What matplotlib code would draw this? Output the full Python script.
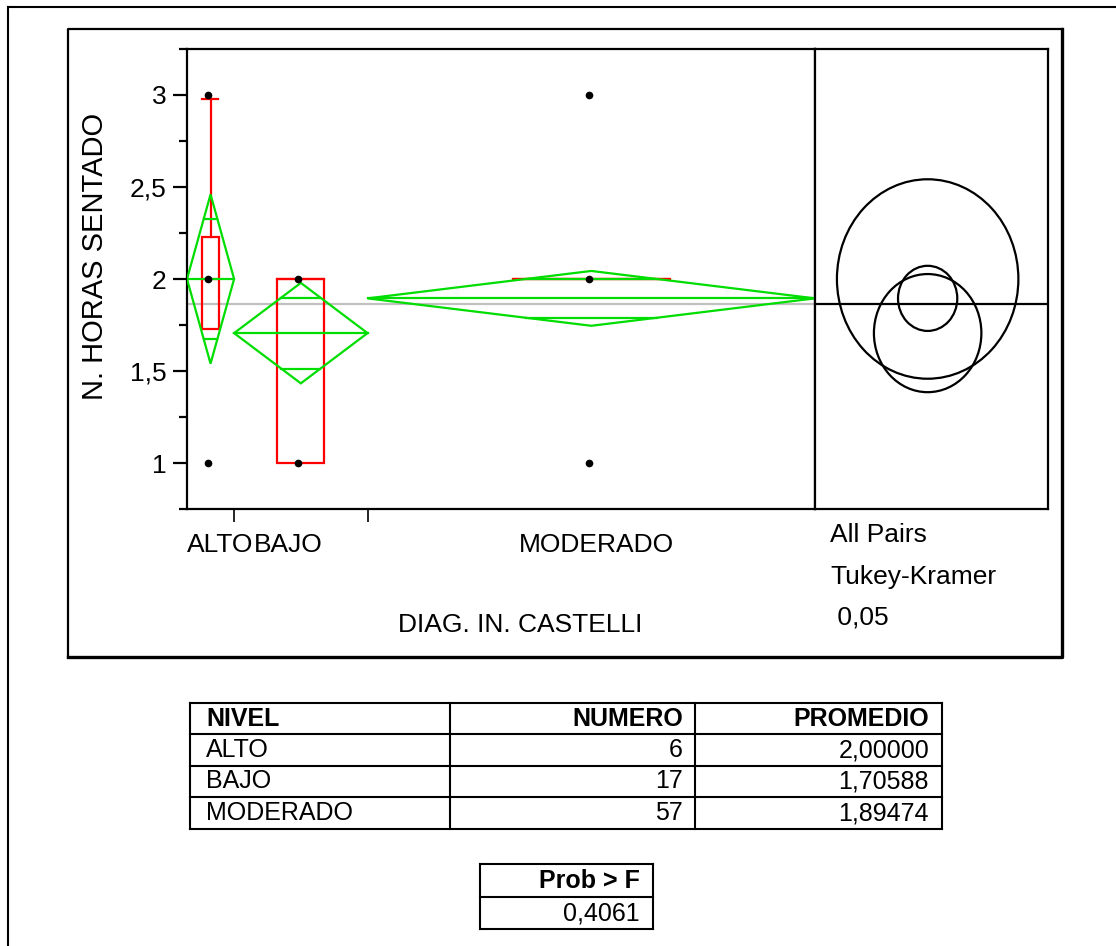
import matplotlib
matplotlib.use("Agg")
import matplotlib.pyplot as plt
from matplotlib.patches import Polygon, Rectangle, Circle
from matplotlib.lines import Line2D
from matplotlib.ticker import FuncFormatter, MultipleLocator
import numpy as np

plt.rcParams['font.family'] = ['Liberation Sans', 'DejaVu Sans']

# datos del analisis unidireccional
niveles = ['ALTO', 'BAJO', 'MODERADO']
numero = [6, 17, 57]
promedio = [2.00000, 1.70588, 1.89474]
media_global = 1.8625
ic_media = [0.46, 0.273, 0.149]        # semiancho de los diamantes (95%)
radio_tukey = [0.542, 0.321, 0.177]    # circulos Tukey-Kramer 0,05
puntos = [[1, 2, 3], [1, 2], [1, 2, 3]]
caja_q1 = [1.73, 1.0, 2.0]
caja_med = [2.0, 2.0, 2.0]
caja_q3 = [2.23, 2.0, 2.0]
bigote_sup = [2.98, 2.0, 2.0]
prob_f = 0.4061

VERDE = '#00dd00'
ROJO = '#ff0000'
W, H = 1116, 946
FS = 19


def fx(px):
    return px / W


def fy(py):
    return 1 - py / H


def coma(v, dec=None):
    s = ('{:.%df}' % dec).format(v) if dec is not None else ('%g' % v)
    return s.replace('.', ',')


fig = plt.figure(figsize=(W / 100, H / 100), dpi=100)

# marcos de la pagina
fig.add_artist(Line2D([fx(8), fx(8)], [fy(7), 0], transform=fig.transFigure, color='black', lw=1.5))
fig.add_artist(Line2D([fx(8), 1], [fy(7), fy(7)], transform=fig.transFigure, color='black', lw=1.5))
fig.add_artist(Line2D([fx(68), fx(68), fx(1062)], [fy(657), fy(29), fy(29)],
                      transform=fig.transFigure, color='black', lw=1.6))
fig.add_artist(Line2D([fx(68), fx(1062), fx(1062)], [fy(657), fy(657), fy(29)],
                      transform=fig.transFigure, color='black', lw=2.4))

ax = fig.add_axes([fx(187), fy(509), fx(815) - fx(187), fy(49) - fy(509)])
ax2 = fig.add_axes([fx(815), fy(509), fx(1048) - fx(815), fy(49) - fy(509)])

bordes = np.concatenate([[0], np.cumsum(numero)])
ax.set_xlim(0, bordes[-1])
ax.set_ylim(0.75, 3.25)

# media global
ax.axhline(media_global, color='#c0c0c0', lw=1.6, zorder=1)

for i in range(len(niveles)):
    L, R = bordes[i], bordes[i + 1]
    c = (L + R) / 2
    m, h = promedio[i], ic_media[i]

    # caja
    bw = (R - L) * 0.35
    ax.add_patch(Rectangle((c - bw / 2, caja_q1[i]), bw, caja_q3[i] - caja_q1[i],
                           fill=False, edgecolor=ROJO, lw=1.6, zorder=2))
    ax.plot([c - bw / 2, c + bw / 2], [caja_med[i]] * 2, color=ROJO, lw=1.6, zorder=2)
    if bigote_sup[i] > caja_q3[i]:
        ax.plot([c, c], [caja_q3[i], bigote_sup[i]], color=ROJO, lw=1.6, zorder=2)
        ax.plot([c - bw / 2, c + bw / 2 - 0.15], [bigote_sup[i]] * 2, color=ROJO, lw=1.6, zorder=2)

    # diamante de medias
    ax.add_patch(Polygon([[L, m], [c, m + h], [R, m], [c, m - h]], closed=True,
                         fill=False, edgecolor=VERDE, lw=1.6, zorder=3))
    ax.plot([L, R], [m, m], color=VERDE, lw=1.6, zorder=3)
    d = h / np.sqrt(2)
    hw = (R - L) / 2 * (1 - d / h)
    for y in (m + d, m - d):
        ax.plot([c - hw, c + hw], [y, y], color=VERDE, lw=1.6, zorder=3)

    ax.plot([c - 0.35] * len(puntos[i]), puntos[i], 'o', color='black', ms=4.5, zorder=4)

# ejes
for sp in ax.spines.values():
    sp.set_linewidth(1.6)
ax.yaxis.set_major_locator(MultipleLocator(0.5))
ax.yaxis.set_minor_locator(MultipleLocator(0.25))
ax.yaxis.set_major_formatter(FuncFormatter(lambda v, p: coma(v)))
ax.tick_params(axis='y', which='major', length=10, width=1.6, labelsize=FS, pad=5)
ax.tick_params(axis='y', which='minor', length=6, width=1.6)
ax.set_xticks(bordes[1:-1])
ax.set_xticklabels([])
ax.tick_params(axis='x', length=9, width=1.2)
ax.set_ylabel('N. HORAS SENTADO', fontsize=21)
ax.yaxis.set_label_coords(-0.124, 0.548)

tr = ax.get_xaxis_transform()
t_alto = ax.text(0, -0.078, niveles[0], transform=tr, ha='left', va='center', fontsize=FS)
# BAJO queda pegado a ALTO porque no cabe centrado
ax.annotate(niveles[1], xy=(1, 0.5), xycoords=t_alto, ha='left', va='center', fontsize=FS)
ax.text((bordes[2] + bordes[3]) / 2 + 0.7, -0.078, niveles[2], transform=tr,
        ha='center', va='center', fontsize=FS)
ax.text(0.53, -0.252, 'DIAG. IN. CASTELLI', transform=ax.transAxes,
        ha='center', va='center', fontsize=FS)

# circulos de comparacion
ax2.set_ylim(0.75, 3.25)
ax2.set_xlim(-0.673, 0.719)
ax2.set_xticks([])
ax2.set_yticks([])
for sp in ax2.spines.values():
    sp.set_linewidth(1.6)
ax2.axhline(media_global, color='black', lw=1.6)
for m, r in zip(promedio, radio_tukey):
    ax2.add_patch(Circle((0, m), r, fill=False, edgecolor='black', lw=1.6))
ax2.text(0.064, -0.0565, 'All Pairs', transform=ax2.transAxes, ha='left', va='center', fontsize=FS)
ax2.text(0.064, -0.148, 'Tukey-Kramer', transform=ax2.transAxes, ha='left', va='center', fontsize=FS)
ax2.text(0.064, -0.235, ' 0,05', transform=ax2.transAxes, ha='left', va='center', fontsize=FS)

# tabla de medias
cols = [190, 450, 695, 942]
filas = [703, 734, 766, 797, 829]
for y in filas:
    fig.add_artist(Line2D([fx(cols[0]), fx(cols[-1])], [fy(y), fy(y)],
                          transform=fig.transFigure, color='black', lw=1.5))
for x in cols:
    fig.add_artist(Line2D([fx(x), fx(x)], [fy(filas[0]), fy(filas[-1])],
                          transform=fig.transFigure, color='black', lw=1.5))
ym = [(a + b) / 2 for a, b in zip(filas[:-1], filas[1:])]
fs = 18
fig.text(fx(206), fy(ym[0]), 'NIVEL', ha='left', va='center', fontsize=fs, fontweight='bold')
fig.text(fx(683), fy(ym[0]), 'NUMERO', ha='right', va='center', fontsize=fs, fontweight='bold')
fig.text(fx(929), fy(ym[0]), 'PROMEDIO', ha='right', va='center', fontsize=fs, fontweight='bold')
for j in range(len(niveles)):
    fig.text(fx(206), fy(ym[j + 1]), niveles[j], ha='left', va='center', fontsize=fs)
    fig.text(fx(683), fy(ym[j + 1]), str(numero[j]), ha='right', va='center', fontsize=fs)
    fig.text(fx(929), fy(ym[j + 1]), coma(promedio[j], 5), ha='right', va='center', fontsize=fs)

# tabla prob > F
pc = [480, 653]
pf = [864, 897, 929]
for y in pf:
    fig.add_artist(Line2D([fx(pc[0]), fx(pc[1])], [fy(y), fy(y)],
                          transform=fig.transFigure, color='black', lw=1.5))
for x in pc:
    fig.add_artist(Line2D([fx(x), fx(x)], [fy(pf[0]), fy(pf[-1])],
                          transform=fig.transFigure, color='black', lw=1.5))
fig.text(fx(640), fy((pf[0] + pf[1]) / 2), 'Prob > F', ha='right', va='center', fontsize=fs, fontweight='bold')
fig.text(fx(640), fy((pf[1] + pf[2]) / 2), coma(prob_f, 4), ha='right', va='center', fontsize=fs)

fig.savefig('out.png', dpi=100)
